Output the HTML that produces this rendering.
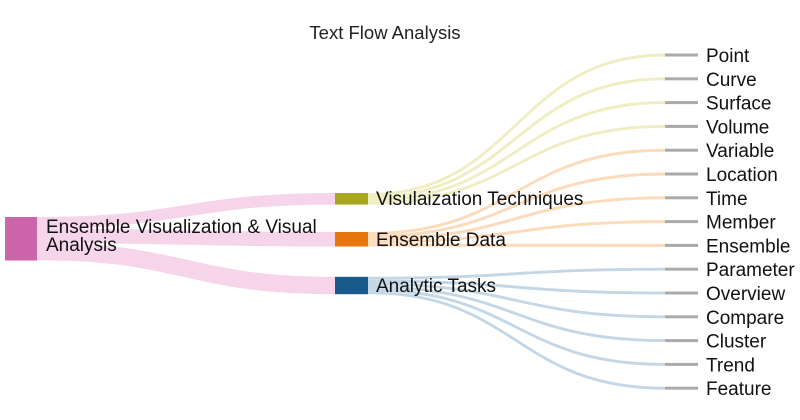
<!DOCTYPE html>
<html><head><meta charset="utf-8"><style>
html,body{margin:0;padding:0;background:#fff;}
svg{display:block;font-family:"Liberation Sans",Arial,sans-serif;}
</style></head><body>
<svg width="800" height="420" viewBox="0 0 800 420" xmlns="http://www.w3.org/2000/svg">
<rect width="800" height="420" fill="#fff"/>
<text x="385" y="39" font-size="18.5" text-anchor="middle" fill="#222">Text Flow Analysis</text>
<g fill="none" stroke-opacity="0.85">
<path d="M37 222.8 C186 222.8,186 198.8,335 198.8" stroke="#f4cde6" stroke-width="11.6"/>
<path d="M37 235.8 C186 235.8,186 239.3,335 239.3" stroke="#f4cde6" stroke-width="14.5"/>
<path d="M37 251.5 C186 251.5,186 285.5,335 285.5" stroke="#f4cde6" stroke-width="17.4"/>
<g stroke="#ecebb8" stroke-width="2.9">
<path d="M368 194.5 C516 194.5,516 55,665 55"/>
<path d="M368 197.4 C516 197.4,516 78.8,665 78.8"/>
<path d="M368 200.3 C516 200.3,516 102.6,665 102.6"/>
<path d="M368 203.2 C516 203.2,516 126.4,665 126.4"/>
</g>
<g stroke="#fcd5ae" stroke-width="2.9">
<path d="M368 233.5 C516 233.5,516 150.2,665 150.2"/>
<path d="M368 236.4 C516 236.4,516 174,665 174"/>
<path d="M368 239.3 C516 239.3,516 197.8,665 197.8"/>
<path d="M368 242.2 C516 242.2,516 221.6,665 221.6"/>
<path d="M368 245.1 C516 245.1,516 245.4,665 245.4"/>
</g>
<g stroke="#b9d0e2" stroke-width="2.9">
<path d="M368 278.2 C516 278.2,516 269.2,665 269.2"/>
<path d="M368 281.1 C516 281.1,516 293,665 293"/>
<path d="M368 284 C516 284,516 316.8,665 316.8"/>
<path d="M368 286.9 C516 286.9,516 340.6,665 340.6"/>
<path d="M368 289.8 C516 289.8,516 364.4,665 364.4"/>
<path d="M368 292.7 C516 292.7,516 388.2,665 388.2"/>
</g>
</g>
<rect x="5" y="217" width="32" height="43.5" fill="#cc66aa"/>
<rect x="335" y="193" width="33" height="11.6" fill="#a8a820"/>
<rect x="335" y="232" width="33" height="14.5" fill="#e8760e"/>
<rect x="335" y="276.8" width="33" height="17.4" fill="#1a5a8a"/>
<g fill="#aaaaaa">
<rect x="665" y="53.5" width="33" height="3"/><rect x="665" y="77.3" width="33" height="3"/>
<rect x="665" y="101.1" width="33" height="3"/><rect x="665" y="124.9" width="33" height="3"/>
<rect x="665" y="148.7" width="33" height="3"/><rect x="665" y="172.5" width="33" height="3"/>
<rect x="665" y="196.3" width="33" height="3"/><rect x="665" y="220.1" width="33" height="3"/>
<rect x="665" y="243.9" width="33" height="3"/><rect x="665" y="267.7" width="33" height="3"/>
<rect x="665" y="291.5" width="33" height="3"/><rect x="665" y="315.3" width="33" height="3"/>
<rect x="665" y="339.1" width="33" height="3"/><rect x="665" y="362.9" width="33" height="3"/>
<rect x="665" y="386.7" width="33" height="3"/>
</g>
<g font-size="19" fill="#111">
<text x="46" y="233">Ensemble Visualization &amp; Visual</text>
<text x="46" y="251">Analysis</text>
<text x="376" y="205">Visulaization Techniques</text>
<text x="376" y="246">Ensemble Data</text>
<text x="376" y="292">Analytic Tasks</text>
<text x="706" y="62">Point</text>
<text x="706" y="85.8">Curve</text>
<text x="706" y="109.6">Surface</text>
<text x="706" y="133.4">Volume</text>
<text x="706" y="157.2">Variable</text>
<text x="706" y="181">Location</text>
<text x="706" y="204.8">Time</text>
<text x="706" y="228.6">Member</text>
<text x="706" y="252.4">Ensemble</text>
<text x="706" y="276.2">Parameter</text>
<text x="706" y="300">Overview</text>
<text x="706" y="323.8">Compare</text>
<text x="706" y="347.6">Cluster</text>
<text x="706" y="371.4">Trend</text>
<text x="706" y="395.2">Feature</text>
</g>
</svg>
</body></html>
